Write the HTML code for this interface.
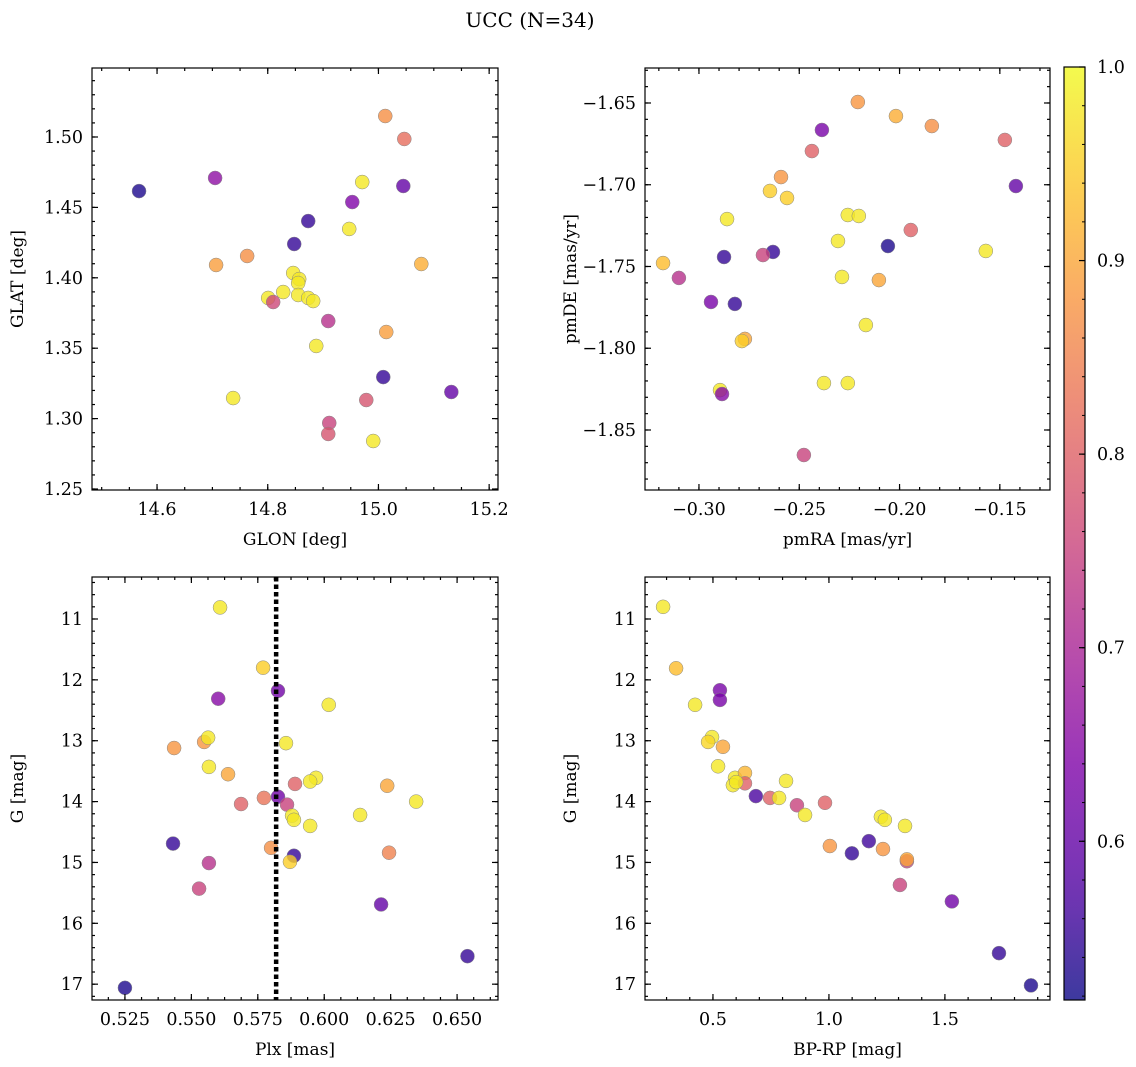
<!DOCTYPE html>
<html><head><meta charset="utf-8"><style>
body{margin:0;background:#fff;}
svg{display:block;font-family:"DejaVu Serif","Liberation Serif",serif;}
</style></head><body>
<svg id="fig" width="1136" height="1067" viewBox="0 0 1136 1067" xmlns="http://www.w3.org/2000/svg">
<text x="530" y="27" font-size="20" text-anchor="middle">UCC (N=34)</text>
</svg>
<script>
// ---- data (per panel) ----
const glon = [14.5675,14.7049,15.0123,15.0467,14.9707,14.9527,15.0449,14.8731,14.9472,14.8478,14.7067,14.7628,15.0774,14.8460,14.8568,14.8550,14.8008,14.8279,14.8550,14.8731,14.8821,14.8098,14.9093,15.0141,14.8876,15.0087,14.7375,14.9780,15.1317,14.9111,14.9093,14.9906];
const glat = [1.4616,1.4709,1.5149,1.4986,1.4680,1.4538,1.4652,1.4403,1.4347,1.4240,1.4091,1.4155,1.4098,1.4034,1.3991,1.3963,1.3857,1.3899,1.3878,1.3857,1.3835,1.3828,1.3693,1.3615,1.3516,1.3295,1.3146,1.3132,1.3189,1.2969,1.2891,1.2841];
const prob1 = [0.53,0.66,0.87,0.82,0.98,0.64,0.6,0.55,0.98,0.55,0.89,0.87,0.91,0.98,0.98,0.98,0.98,0.98,0.98,0.98,0.98,0.76,0.72,0.89,0.98,0.55,0.98,0.78,0.6,0.75,0.78,0.98];

const pmra = [-0.2208,-0.2018,-0.1839,-0.2387,-0.1475,-0.2437,-0.1420,-0.2591,-0.2646,-0.2561,-0.2860,-0.2258,-0.2203,-0.1944,-0.2058,-0.2307,-0.3179,-0.2875,-0.2631,-0.2681,-0.2287,-0.2103,-0.1570,-0.3100,-0.2940,-0.2821,-0.2771,-0.2786,-0.2168,-0.2377,-0.2258,-0.2895,-0.2885,-0.2477];
const pmde = [-1.6494,-1.6580,-1.6641,-1.6665,-1.6726,-1.6794,-1.7008,-1.6953,-1.7038,-1.7081,-1.7210,-1.7185,-1.7191,-1.7277,-1.7375,-1.7344,-1.7479,-1.7442,-1.7411,-1.7430,-1.7564,-1.7583,-1.7405,-1.7570,-1.7717,-1.7729,-1.7943,-1.7956,-1.7858,-1.8213,-1.8213,-1.8256,-1.8280,-1.8653];
const prob2 = [0.88,0.91,0.87,0.63,0.8,0.8,0.6,0.88,0.95,0.95,0.98,0.98,0.98,0.8,0.53,0.98,0.93,0.55,0.55,0.75,0.98,0.9,0.98,0.72,0.63,0.55,0.9,0.95,0.98,0.98,0.98,0.98,0.65,0.75];

const plx = [0.5608,0.5770,0.5601,0.5826,0.6017,0.5435,0.5548,0.5563,0.5856,0.5566,0.5638,0.5687,0.5773,0.5890,0.5969,0.5947,0.6237,0.6346,0.5826,0.5860,0.5879,0.5886,0.5947,0.6135,0.5431,0.5800,0.5886,0.5871,0.6244,0.5566,0.5529,0.6214,0.6539,0.5250];
const gmag = [10.81,11.80,12.31,12.18,12.41,13.12,13.02,12.95,13.04,13.43,13.55,14.04,13.94,13.71,13.61,13.67,13.74,14.00,13.92,14.05,14.23,14.30,14.40,14.22,14.69,14.76,14.89,14.99,14.84,15.01,15.43,15.69,16.54,17.06];
const prob3 = [0.98,0.95,0.65,0.62,0.98,0.88,0.88,0.98,0.98,0.98,0.9,0.8,0.83,0.8,0.98,0.98,0.9,0.98,0.62,0.75,0.98,0.98,0.98,0.98,0.55,0.87,0.55,0.95,0.85,0.72,0.75,0.6,0.55,0.53];
const plxLine = 0.5819;

const bprp = [0.285,0.341,0.530,0.530,0.423,0.496,0.479,0.543,0.522,0.595,0.638,0.586,0.638,0.815,0.685,0.746,0.785,0.862,0.983,0.897,1.224,1.241,1.328,1.004,1.099,1.172,1.233,1.336,1.336,1.306,1.530,1.733,1.871,0.600];
const gmag4 = [10.80,11.81,12.17,12.33,12.41,12.94,13.02,13.10,13.42,13.61,13.53,13.73,13.70,13.66,13.91,13.94,13.94,14.06,14.02,14.22,14.25,14.30,14.40,14.73,14.85,14.65,14.78,14.98,14.95,15.37,15.64,16.49,17.02,13.68];
const prob4 = [0.98,0.93,0.63,0.63,0.98,0.98,0.96,0.9,0.98,0.98,0.92,0.98,0.8,0.98,0.57,0.8,0.98,0.75,0.8,0.98,0.98,0.98,0.98,0.88,0.55,0.56,0.88,0.75,0.9,0.75,0.62,0.55,0.53,0.98];

const cbTicks = [0.6,0.7,0.8,0.9,1.0];

// ---- helpers ----
const NS="http://www.w3.org/2000/svg";
const svg=document.getElementById('fig');
function mk(tag,attrs,parent){const e=document.createElementNS(NS,tag);for(const k in attrs)e.setAttribute(k,attrs[k]);(parent||svg).appendChild(e);return e;}
const stops=[[0,[13,8,135]],[0.125,[84,2,163]],[0.25,[126,3,168]],[0.375,[168,34,150]],[0.5,[204,71,120]],[0.625,[230,108,92]],[0.75,[248,149,64]],[0.875,[253,196,39]],[1,[240,249,33]]];
const cmin=0.518,cmax=1.0;
function cmap(v){let t=(v-cmin)/(cmax-cmin);t=Math.max(0,Math.min(1,t));for(let i=1;i<stops.length;i++){if(t<=stops[i][0]){const a=stops[i-1],b=stops[i];const f=(t-a[0])/(b[0]-a[0]);const c=a[1].map((x,j)=>Math.round(x+(b[1][j]-x)*f));return `rgb(${c.join(',')})`;}}return 'rgb(240,249,33)';}
function lin(d0,d1,r0,r1){return v=>r0+(v-d0)/(d1-d0)*(r1-r0);}

function panel(name,box,xd,yd,xMaj,xMin,yMaj,yMin,xfmt,yfmt,xlabel,ylabel,xs,ys,ps,extra){
  const g=mk('g',{});
  
  
  const [L,T,R,B]=box;
  const X=lin(xd[0],xd[1],L,R), Y=lin(yd[0],yd[1],T,B);
  const pts=mk('g',{},g);
  
  
  for(let i=0;i<xs.length;i++){
    const c=mk('circle',{cx:X(xs[i]),cy:Y(ys[i]),r:7,fill:cmap(ps[i]),'fill-opacity':0.8,stroke:'#888','stroke-width':0.5},pts);
    
    
  }
  if(extra)extra(g,X,Y);
  const ax=mk('g',{stroke:'#000','stroke-width':1.2},g);
  
  
  const xlo=Math.min(...xd),xhi=Math.max(...xd),ylo=Math.min(...yd),yhi=Math.max(...yd);
  function ticks(step,lo,hi){const a=[];for(let k=Math.ceil(lo/step-1e-6);k*step<=hi+1e-9;k++)a.push(+(k*step).toFixed(8));return a;}
  ticks(xMin,xlo,xhi).forEach(v=>{const x=X(v);mk('line',{x1:x,x2:x,y1:B,y2:B-3},ax);mk('line',{x1:x,x2:x,y1:T,y2:T+3},ax);});
  ticks(yMin,ylo,yhi).forEach(v=>{const y=Y(v);mk('line',{x1:L,x2:L+3,y1:y,y2:y},ax);mk('line',{x1:R,x2:R-3,y1:y,y2:y},ax);});
  ticks(xMaj,xlo,xhi).forEach(v=>{const x=X(v);mk('line',{x1:x,x2:x,y1:B,y2:B-6},ax);mk('line',{x1:x,x2:x,y1:T,y2:T+6},ax);
    const t=mk('text',{x:x,y:B+25,'font-size':17.5,'text-anchor':'middle',stroke:'none'},g);t.textContent=xfmt(v);
    });
  ticks(yMaj,ylo,yhi).forEach(v=>{const y=Y(v);mk('line',{x1:L,x2:L+6,y1:y,y2:y},ax);mk('line',{x1:R,x2:R-6,y1:y,y2:y},ax);
    const t=mk('text',{x:L-9,y:y+6,'font-size':17.5,'text-anchor':'end',stroke:'none'},g);t.textContent=yfmt(v);
    });
  mk('rect',{x:L,y:T,width:R-L,height:B-T,fill:'none'},ax);
  const xl=mk('text',{x:(L+R)/2,y:B+55,'font-size':17,'text-anchor':'middle'},g);xl.textContent=xlabel;
  
  const yl=mk('text',{x:0,y:0,'font-size':17,'text-anchor':'middle',transform:`translate(${L-69},${(T+B)/2}) rotate(-90)`},g);yl.textContent=ylabel;
  
}
const f=d=>v=>(v<0?'\u2212':'')+Math.abs(v).toFixed(d);

panel('glon-glat-panel',[92,68,498,490],[14.4825,15.216],[1.549,1.2493],0.2,0.05,0.05,0.01,f(1),f(2),'GLON [deg]','GLAT [deg]',glon,glat,prob1);
panel('pm-panel',[645,68,1050,490],[-0.3269,-0.125],[-1.6286,-1.8867],0.05,0.01,0.05,0.01,f(2),f(2),'pmRA [mas/yr]','pmDE [mas/yr]',pmra,pmde,prob2);
panel('plx-g-panel',[92,577,498,1000],[0.5126,0.6654],[10.31,17.26],0.025,0.00625,1,0.2,f(3),f(0),'Plx [mas]','G [mag]',plx,gmag,prob3,(g,X,Y)=>{
  const l=mk('line',{x1:X(plxLine),x2:X(plxLine),y1:577,y2:1000,stroke:'#000','stroke-width':4.5,'stroke-dasharray':'4.5,3'},g);
  
});
panel('cmd-panel',[645,577,1050,1000],[0.207,1.953],[10.31,17.26],0.5,0.1,1,0.2,f(1),f(0),'BP-RP [mag]','G [mag]',bprp,gmag4,prob4);

// colorbar
const cb=mk('g',{});


const defs=mk('defs',{},cb);
const lg=mk('linearGradient',{id:'pl',x1:0,y1:1,x2:0,y2:0},defs);
for(let i=0;i<=20;i++){const v=cmin+(cmax-cmin)*i/20;mk('stop',{offset:(i/20),'stop-color':cmap(v),'stop-opacity':0.8},lg);}
const cT=67,cB=1000,cL=1064,cR=1085;
const CY=lin(cmin,cmax,cB,cT);
mk('rect',{x:cL,y:cT,width:cR-cL,height:cB-cT,fill:'url(#pl)',stroke:'#000','stroke-width':1.2},cb);
for(let k=26;k<=50;k++){const v=k*0.02;if(v<cmin)continue;const y=CY(v);mk('line',{x1:cR,x2:cR-3,y1:y,y2:y,stroke:'#000','stroke-width':1},cb);}
cbTicks.forEach(v=>{const y=CY(v);mk('line',{x1:cR,x2:cR-6,y1:y,y2:y,stroke:'#000','stroke-width':1.2},cb);
  const t=mk('text',{x:cR+12,y:y+6,'font-size':17.5},cb);t.textContent=v.toFixed(1);
  });
</script>
</body></html>
